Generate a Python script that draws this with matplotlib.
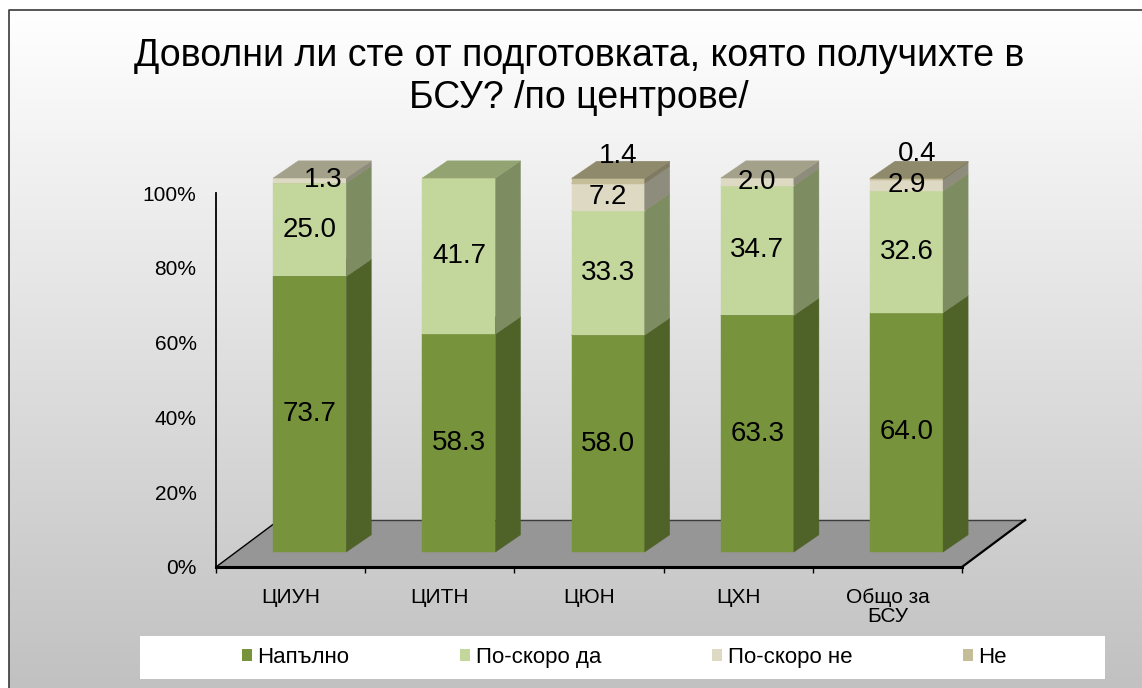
import numpy as np
import matplotlib.pyplot as plt
from matplotlib.patches import Polygon, Rectangle, Patch

plt.rcParams['font.family'] = ['Liberation Sans', 'DejaVu Sans']

# Data
categories = ['ЦИУН', 'ЦИТН', 'ЦЮН', 'ЦХН', 'Общо за\nБСУ']
series = ['Напълно', 'По-скоро да', 'По-скоро не', 'Не']
napalno = [73.7, 58.3, 58.0, 63.3, 64.0]
po_skoro_da = [25.0, 41.7, 33.3, 34.7, 32.6]
po_skoro_ne = [1.3, 0.0, 7.2, 2.0, 2.9]
ne = [0.0, 0.0, 1.4, 0.0, 0.4]
values = [napalno, po_skoro_da, po_skoro_ne, ne]

# Colours: front, side, top
front = ['#77933C', '#C3D69B', '#DDD9C3', '#C4BD97']
side = ['#4F6228', '#7E8C62', '#8E8C7C', '#7F7A62']
top = ['#5E7530', '#93A371', '#A4A18B', '#8F8A6C']

W, H = 1142, 688
fig = plt.figure(figsize=(W / 100, H / 100), dpi=100)

# Background gradient inside the frame
bg = fig.add_axes([0, 0, 1, 1], zorder=-10)
grad = np.linspace(255, 193, 256).reshape(-1, 1) / 255.0
bg.imshow(np.dstack([grad, grad, grad]), aspect='auto',
          extent=[9 / W, 1, 0, 1 - 10 / H], transform=bg.transAxes)
bg.set_xlim(0, 1)
bg.set_ylim(0, 1)
bg.plot([9 / W, 9 / W, 1], [0, 1 - 10 / H, 1 - 10 / H], color='#3a3a3a', lw=1.2)
bg.axis('off')

# Main axes mapped to pixel layout
x0_px, x1_px, y0_px, y1_px = 216, 962, 567, 193
ax = fig.add_axes([x0_px / W, 1 - y0_px / H, (x1_px - x0_px) / W, (y0_px - y1_px) / H])
ax.set_facecolor('none')
ax.set_xlim(-0.5, 4.5)
ax.set_ylim(0, 100)

# 3D geometry (category units, percent units)
floor_dx, floor_dy = 0.423, 12.6
off_x, off_y = 0.128, 4.0
bar_w = 0.49
dx, dy = 0.168, 4.6

floor = Polygon([(-0.5, 0), (4.5, 0), (4.5 + floor_dx, floor_dy), (-0.5 + floor_dx, floor_dy)],
                closed=True, facecolor='#969696', edgecolor='none', clip_on=False, zorder=1)
ax.add_patch(floor)
ax.plot([-0.5 + floor_dx, 4.5 + floor_dx], [floor_dy, floor_dy], color='#3c3c3c', lw=1, clip_on=False, zorder=1.5)
ax.plot([-0.5, -0.5 + floor_dx], [0, floor_dy], color='black', lw=1, clip_on=False, zorder=1.5)
ax.plot([4.5, 4.5 + floor_dx], [0, floor_dy], color='black', lw=1.6, clip_on=False, zorder=1.5)
ax.plot([-0.5, 4.5], [0, 0], color='black', lw=2.2, clip_on=False, zorder=1.5)

label_nudge = {(2, 0): (0.09, 0.0)}

for i in range(len(categories)):
    xl = i + off_x - bar_w / 2
    xr = i + off_x + bar_w / 2
    bottom = 0.0
    for s in range(len(series)):
        v = values[s][i]
        if v <= 0:
            continue
        b, t = off_y + bottom, off_y + bottom + v
        ax.add_patch(Polygon([(xl, b), (xr, b), (xr, t), (xl, t)], closed=True,
                             facecolor=front[s], edgecolor=front[s], lw=0.3, clip_on=False, zorder=3))
        ax.add_patch(Polygon([(xr, b), (xr + dx, b + dy), (xr + dx, t + dy), (xr, t)], closed=True,
                             facecolor=side[s], edgecolor=side[s], lw=0.3, clip_on=False, zorder=3))
        ax.add_patch(Polygon([(xl, t), (xr, t), (xr + dx, t + dy), (xl + dx, t + dy)], closed=True,
                             facecolor=top[s], edgecolor=top[s], lw=0.3, clip_on=False, zorder=3))
        lx, ly = i + off_x, (b + t) / 2
        if s == 3:
            lx, ly = lx + 0.07, ly + 6.8
        nx, ny = label_nudge.get((s, i), (0, 0))
        ax.text(lx + nx, ly + ny, f'{v:.1f}', ha='center', va='center', fontsize=20,
                color='black', zorder=5, clip_on=False)
        bottom += v

# Axes styling
for sp in ['top', 'right', 'bottom']:
    ax.spines[sp].set_visible(False)
ax.spines['left'].set_linewidth(1.3)
ax.spines['left'].set_zorder(4)
ax.set_yticks(np.arange(0, 101, 20))
ax.set_yticklabels([f'{v}%' for v in range(0, 101, 20)], fontsize=15)
ax.tick_params(axis='y', length=0, pad=14)
ax.set_xticks(range(len(categories)))
ax.set_xticklabels(categories, fontsize=15, linespacing=1.0)
ax.tick_params(axis='x', which='major', length=0, pad=15)
ax.set_xticks(np.arange(-0.5, 5, 1), minor=True)
ax.tick_params(axis='x', which='minor', length=4, width=1, direction='out', color='black')

# Title
fig.text(579 / W, 1 - 77 / H, 'Доволни ли сте от подготовката, която получихте в\nБСУ? /по центрове/',
         ha='center', va='center', fontsize=27, linespacing=1.24)

# Legend
fig.patches.append(Rectangle((140 / W, 1 - 679 / H), (1105 - 140) / W, 43 / H,
                             transform=fig.transFigure, facecolor='white', edgecolor='none', zorder=0))
handles = [Patch(facecolor=c, edgecolor='none') for c in front]
fig.legend(handles, series, loc='center', ncol=4, mode='expand', frameon=False,
           bbox_to_anchor=(242 / W, 1 - 679 / H, (1007 - 242) / W, 43 / H),
           fontsize=16, handlelength=0.45, handleheight=0.45, handletextpad=0.25,
           borderaxespad=0, borderpad=0)

fig.savefig('out.png', dpi=100)
